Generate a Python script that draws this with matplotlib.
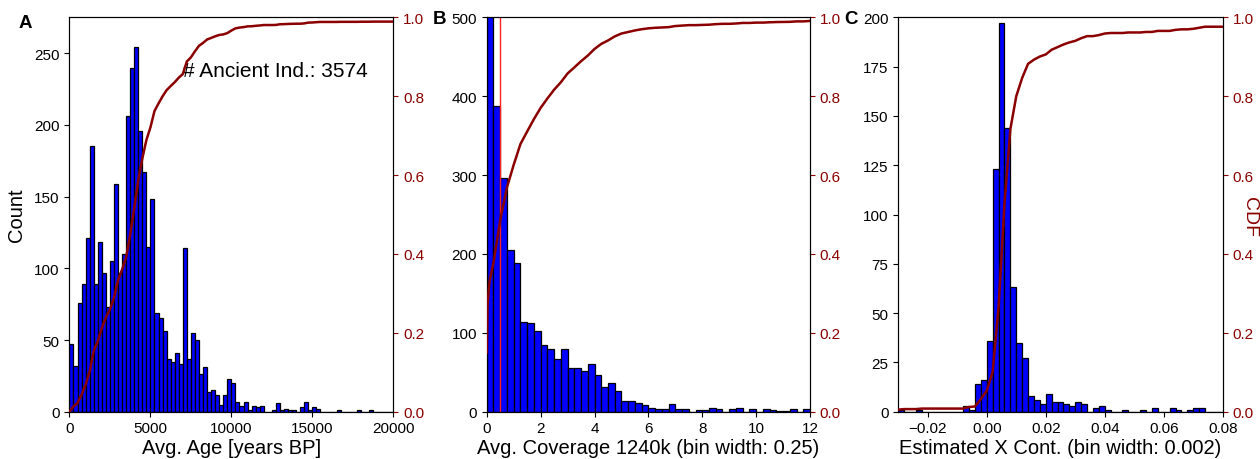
import numpy as np
import matplotlib
matplotlib.use("Agg")
import matplotlib.pyplot as plt

plt.rcParams['font.family'] = ['Liberation Sans', 'DejaVu Sans']

# ---------------- data ----------------
n_individuals = 3574

# Panel A: average age, bins of 250 years from 0 to 20000
age_bin_width = 250
age_range = [0, 20000]
age_counts = [47, 32, 76, 89, 121, 185, 89, 118, 97, 73, 105, 159, 97, 110, 206, 240, 254, 196, 167, 115,
              148, 69, 65, 56, 37, 35, 41, 33, 114, 37, 55, 50, 26, 31, 14, 15, 12, 5, 12, 23,
              20, 7, 4, 7, 1, 4, 3, 4, 0, 0, 1, 6, 1, 2, 1, 1, 0, 3, 7, 1,
              3, 2, 0, 0, 0, 0, 1, 0, 0, 0, 0, 1, 0, 0, 1, 0, 0, 0, 0, 0]
age_below = 0

# Panel B: coverage, bins of 0.25 from 0 to 12
cov_bin_width = 0.25
cov_range = [0, 12]
cov_counts = [1349, 387, 296, 205, 188, 114, 112, 102, 85, 80, 67, 80, 55, 56, 51, 60, 46, 31, 37, 26,
              14, 14, 11, 8, 5, 3, 3, 10, 4, 4, 0, 2, 2, 5, 3, 0, 3, 5, 0, 3,
              0, 3, 2, 1, 1, 4, 0, 4]
cov_below = 0
cov_cdf_head_x = [0.0, 0.03, 0.1]
cov_cdf_head_y = [0.15, 0.27, 0.33]
cov_cutoff = 0.5

# Panel C: X contamination, bins of 0.002 from -0.03 to 0.08
xc_bin_width = 0.002
xc_range = [-0.03, 0.08]
xc_counts = [1, 0, 0, 1, 0, 0, 0, 0, 0, 0, 0, 3, 1, 14, 16,
             36, 123, 197, 144, 63, 35, 27, 8, 6, 4, 9, 5, 5, 4, 3,
             5, 4, 0, 2, 3, 1, 0, 0, 1, 0, 0, 1, 0, 2, 0,
             0, 2, 1, 0, 1, 2, 2, 0, 0, 0]
xc_below = 4
xc_total = 754

# ---------------- figure ----------------
fig = plt.figure(figsize=(12.6, 4.6), dpi=100)
bottom, height = 0.1028, 0.8574
axA = fig.add_axes([0.0551, bottom, 0.2571, height])
axB = fig.add_axes([0.3863, bottom, 0.2566, height])
axC = fig.add_axes([0.7129, bottom, 0.2575, height])

cdf_color = '#8B0000'
tick_fs = 11
label_fs = 14.5


def draw(ax, counts, bw, rng, below, total, ylim, cdf_head=None):
    counts = np.asarray(counts, dtype=float)
    edges = rng[0] + bw * np.arange(len(counts) + 1)
    ax.bar(edges[:-1], counts, width=bw, align='edge', color='#0000FF',
           edgecolor='black', linewidth=0.9, zorder=2)
    ax.set_xlim(rng)
    ax.set_ylim(ylim)
    ax.tick_params(labelsize=tick_fs)
    ax2 = ax.twinx()
    cdf = (below + np.concatenate([[0], np.cumsum(counts)])) / total
    xs, ys = edges, cdf
    if cdf_head is not None:
        hx, hy = cdf_head
        xs = np.concatenate([hx, edges[1:]])
        ys = np.concatenate([hy, cdf[1:]])
    ax2.plot(xs, ys, color=cdf_color, lw=1.8, zorder=3)
    ax2.set_ylim(0, 1.0)
    ax2.set_yticks([0, 0.2, 0.4, 0.6, 0.8, 1.0])
    ax2.tick_params(axis='y', colors=cdf_color, labelsize=tick_fs)
    ax2.spines['right'].set_color('black')
    ax2.set_xlim(rng)
    return ax2


axA2 = draw(axA, age_counts, age_bin_width, age_range, age_below, n_individuals, (0, 275))
axA.set_xticks([0, 5000, 10000, 15000, 20000])
axA.set_yticks([0, 50, 100, 150, 200, 250])
axA.set_xlabel('Avg. Age [years BP]', fontsize=label_fs, labelpad=2)
axA.set_ylabel('Count', fontsize=label_fs, labelpad=6)
axA.text(0.35, 0.865, f'# Ancient Ind.: {n_individuals}', transform=axA.transAxes,
         fontsize=15, va='center', ha='left', zorder=5)

axB2 = draw(axB, cov_counts, cov_bin_width, cov_range, cov_below, n_individuals, (0, 500),
            cdf_head=(cov_cdf_head_x, cov_cdf_head_y))
axB.axvline(cov_cutoff, color='#FF2020', lw=1.0, zorder=4)
axB.set_xticks([0, 2, 4, 6, 8, 10, 12])
axB.set_yticks([0, 100, 200, 300, 400, 500])
axB.set_xlabel('Avg. Coverage 1240k (bin width: 0.25)', fontsize=label_fs, labelpad=2)

axC2 = draw(axC, xc_counts, xc_bin_width, xc_range, xc_below, xc_total, (0, 200))
axC.set_xticks([-0.02, 0.0, 0.02, 0.04, 0.06, 0.08])
axC.set_yticks(np.arange(0, 201, 25))
axC.set_xlabel('Estimated X Cont. (bin width: 0.002)', fontsize=label_fs, labelpad=2)
fig.text(1249 / 1260, 1 - 217 / 460, 'CDF', color=cdf_color, fontsize=14, rotation=270,
         ha='center', va='center')

for letter, x, y in [('A', 25 / 1260, 1 - 23 / 460), ('B', 440 / 1260, 1 - 20 / 460),
                     ('C', 851 / 1260, 1 - 20 / 460)]:
    fig.text(x, y, letter, fontsize=13.5, fontweight='bold', ha='center', va='center')

fig.savefig('out.png', dpi=100)
